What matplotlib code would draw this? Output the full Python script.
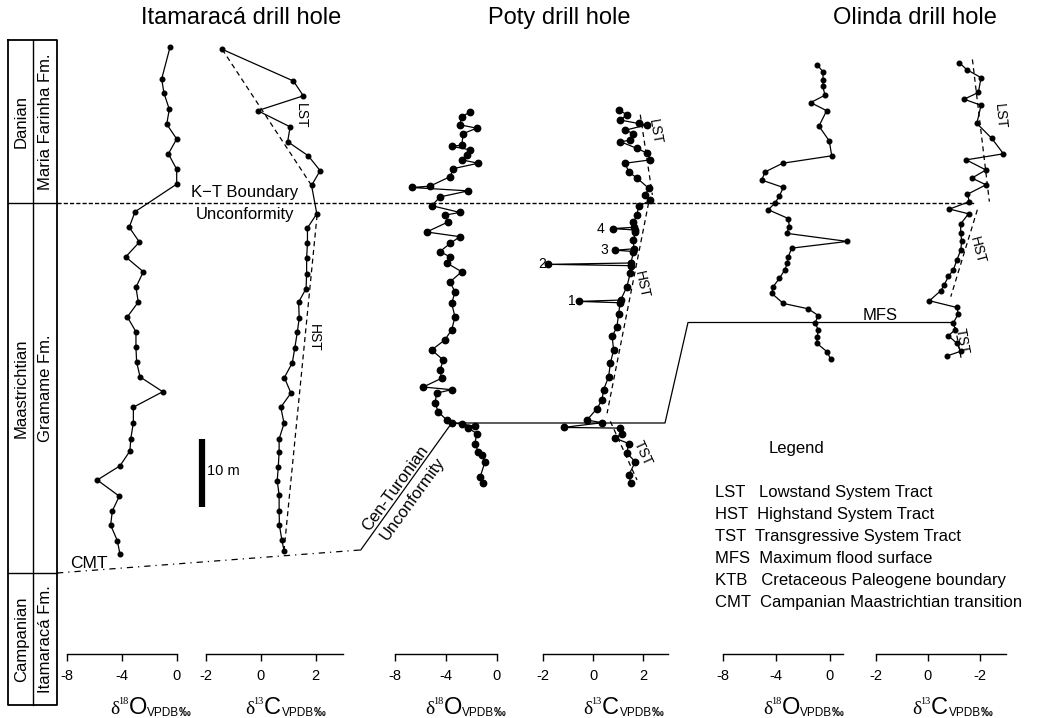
import matplotlib.pyplot as plt

plt.rcParams['font.family'] = ['Liberation Sans', 'DejaVu Sans']

W, H = 1039, 718
KT_ROW = 203       # pixel row of the K-T boundary
PX_PER_M = 6.74    # 10 m scale bar
AXIS_ROW = 654     # pixel row of the value axes

# ---- data: depth in m relative to K-T boundary (negative = above) ----
ita_o_depth = [-23.1, -18.4, -16.3, -13.9, -11.7, -9.5, -7.3, -5.0, -2.8, 1.3, 3.6, 5.8, 8.0,
               10.2, 12.5, 14.7, 16.9, 19.1, 21.4, 23.6, 25.8, 28.0, 30.3, 32.6, 35.0, 36.8,
               39.0, 41.1, 43.5, 45.7, 47.8, 50.1, 52.1]
ita_o = [-0.49, -1.10, -0.93, -0.54, -0.73, 0.0, -0.61, 0.0, 0.0, -3.05, -3.47, -2.73, -3.73,
         -2.44, -2.98, -2.81, -3.61, -2.98, -2.98, -2.93, -2.68, -1.02, -3.17, -3.17, -3.36,
         -3.42, -4.15, -5.81, -4.20, -4.71, -4.83, -4.34, -4.15]

ita_c_depth = [-22.8, -18.1, -15.9, -13.7, -11.3, -9.1, -7.0, -4.8, -2.6, 1.6, 3.7, 6.0, 8.2,
               10.5, 12.7, 14.7, 17.1, 19.2, 21.5, 23.7, 25.9, 28.2, 30.3, 32.7, 35.0, 36.9,
               39.1, 41.2, 43.3, 45.7, 47.8, 50.0, 51.6]
ita_c = [-1.40, 1.19, 1.55, -0.11, 1.07, 0.98, 1.73, 2.16, 1.85, 2.04, 1.70, 1.70, 1.67, 1.67,
         1.65, 1.38, 1.40, 1.33, 1.24, 1.15, 0.86, 1.10, 0.73, 0.85, 0.67, 0.67, 0.64, 0.60,
         0.67, 0.67, 0.68, 0.77, 0.85]
ita_c_lst = ([-1.40, 1.85], [-22.8, -2.6])
ita_c_hst = ([2.05, 0.85], [1.8, 51.5])

poty_o_depth = [-13.5, -12.8, -11.6, -11.1, -10.3, -8.6, -8.4, -7.9, -7.1, -6.4, -5.9, -5.1,
                -3.9, -2.5, -2.3, -1.8, -0.9, 0.4, 1.4, 1.8, 2.8, 4.3, 5.0, 6.0, 7.2, 8.0, 8.9,
                10.2, 11.7, 13.2, 14.9, 16.9, 18.8, 20.3, 21.8, 23.3, 24.8, 26.0, 27.3, 27.7,
                28.2, 29.7, 31.0, 32.2, 32.6, 32.8, 33.1, 33.4, 34.2, 35.7, 36.9, 37.4, 38.4,
                40.7, 41.6]
poty_o = [-2.10, -2.75, -2.89, -1.57, -2.63, -2.75, -3.54, -2.10, -2.36, -2.75, -1.45, -3.41,
          -3.67, -5.25, -6.69, -2.23, -4.46, -5.11, -2.89, -4.07, -3.81, -5.51, -2.89, -3.67,
          -4.46, -3.67, -3.93, -2.75, -3.67, -3.28, -3.54, -3.28, -3.54, -4.07, -5.11, -4.20,
          -4.46, -4.33, -5.78, -3.54, -4.72, -4.85, -4.59, -3.93, -3.54, -2.75, -1.71, -2.23,
          -1.57, -1.71, -1.45, -1.18, -0.92, -1.31, -1.05]

poty_c_depth = [-13.8, -13.1, -12.3, -11.8, -11.6, -10.8, -10.3, -9.3, -9.1, -8.1, -7.4, -6.4,
                -5.9, -4.6, -3.7, -2.2, -1.2, -0.4, 0.5, 1.8, 2.8, 3.6, 3.8, 4.0, 4.3, 5.5, 6.8,
                7.0, 7.2, 8.9, 9.1, 9.3, 10.4, 12.4, 14.4, 14.6, 14.8, 16.4, 18.4, 19.8, 21.8,
                23.8, 25.8, 27.7, 29.2, 30.5, 32.2, 32.6, 33.3, 33.4, 34.2, 34.9, 35.7, 37.1,
                38.4, 40.4, 41.5]
poty_c = [1.02, 1.35, 1.09, 1.81, 2.15, 1.28, 1.61, 1.48, 1.09, 1.75, 2.15, 2.28, 1.28, 1.42,
          1.75, 2.21, 2.08, 2.28, 1.81, 1.75, 1.61, 1.64, 0.78, 1.66, 1.68, 1.61, 1.62, 0.89,
          1.61, 1.51, -1.77, 1.50, 1.48, 1.35, 1.10, -0.57, 1.08, 1.02, 0.95, 0.76, 0.82,
          0.69, 0.62, 0.42, 0.36, 0.16, -0.24, 0.36, -1.17, 1.09, 1.15, 0.89, 1.42, 1.35,
          1.68, 1.42, 1.51]
poty_c_lst = ([1.88, 2.36], [-13.1, -1.2])
poty_c_hst = ([2.21, 0.56], [0.0, 31.2])
poty_c_tst = ([0.69, 1.75], [32.4, 41.1])
spike_labels = ['1', '2', '3', '4']
spike_depth = [14.5, 9.1, 7.0, 3.8]
spike_value = [-0.84, -2.03, 0.45, 0.31]

oli_o_depth = [-20.5, -19.5, -18.2, -17.3, -16.0, -14.9, -13.7, -11.4, -9.2, -7.0, -5.9, -4.6,
               -3.4, -2.3, -1.0, 0.0, 1.0, 2.3, 3.5, 4.5, 5.7, 6.7, 8.0, 8.9, 9.9, 11.2, 12.4,
               13.4, 14.9, 15.7, 16.7, 17.8, 18.8, 19.9, 20.8, 22.1, 23.2]
oli_o = [-0.95, -0.54, -0.50, -0.54, -0.37, -1.44, -0.25, -0.82, -0.05, 0.13, -3.53, -4.85,
         -5.09, -3.48, -3.78, -4.10, -4.60, -3.11, -3.03, -3.23, 1.29, -2.86, -3.11, -3.18,
         -3.36, -3.78, -4.23, -4.35, -3.48, -1.62, -0.87, -1.12, -0.87, -0.95, -0.99, -0.20,
         0.05]

oli_c_depth = [-20.8, -19.8, -18.6, -16.4, -15.4, -14.5, -11.8, -9.6, -7.3, -6.4, -4.9, -3.7,
               -2.7, -1.3, -0.2, 0.9, 1.6, 3.1, 4.4, 5.7, 7.0, 8.5, 9.9, 10.9, 12.2, 13.0, 14.5,
               15.5, 16.4, 17.8, 18.8, 19.7, 20.8, 22.0, 22.7]
oli_c = [1.21, 1.49, 2.04, 1.94, 1.39, 2.04, 1.88, 2.45, 2.90, 1.47, 2.23, 1.69, 2.23, 1.52,
         1.59, 0.83, 1.56, 1.26, 1.26, 1.30, 1.26, 1.11, 0.98, 0.79, 0.62, 0.50, 0.06, 1.11,
         1.17, 0.98, 1.05, 0.79, 1.11, 1.26, 0.73]
oli_c_lst = ([1.71, 2.36], [-21.3, -0.2])
oli_c_hst = ([1.90, 0.88], [1.0, 13.9])
oli_c_tst = ([1.05, 1.30], [18.4, 23.5])

o_ticks = [-8, -4, 0]
c_ticks = [-2, 0, 2]
c_ticklabels_olinda = ['-2', '0', '-2']


def depth_at(row):
    return (row - KT_ROW) / PX_PER_M


fig = plt.figure(figsize=(W / 100, H / 100), dpi=100)
ov = fig.add_axes([0, 0, 1, 1])
ov.set_xlim(0, W)
ov.set_ylim(depth_at(H), depth_at(0))
ov.axis('off')


def panel(px_a, val_a, ppu, lo, hi, ticks, ticklabels):
    v0, v1 = lo - 0.8, hi + 0.8
    left = px_a + (v0 - val_a) * ppu
    ax = fig.add_axes([left / W, (H - AXIS_ROW) / H, (v1 - v0) * ppu / W, AXIS_ROW / H])
    ax.set_xlim(v0, v1)
    ax.set_ylim(depth_at(AXIS_ROW), depth_at(0))
    ax.patch.set_alpha(0)
    for s in ['top', 'left', 'right']:
        ax.spines[s].set_visible(False)
    ax.spines['bottom'].set_bounds(lo, hi)
    ax.spines['bottom'].set_linewidth(1.0)
    ax.set_yticks([])
    ax.set_xticks(ticks, ticklabels)
    ax.tick_params(axis='x', direction='out', length=5, width=1.0, labelsize=10.5, pad=6)
    return ax


def curve(ax, vals, depth, ms=3.3):
    ax.plot(vals, depth, '-', color='black', lw=0.9, marker='o', ms=ms, clip_on=False)


def trend(ax, seg):
    ax.plot(seg[0], seg[1], color='black', lw=0.9, ls=(0, (4, 3)), clip_on=False)


def iso_label(left, iso, elem):
    base = depth_at(714)
    ov.text(left, base, '\u03b4', family='Liberation Serif', fontsize=14, va='baseline')
    ov.text(left + 8.5, depth_at(704.5), iso, family='Liberation Serif', fontsize=7.5,
            va='baseline')
    ov.text(left + 18.5, base, elem, fontsize=17, va='baseline')
    ov.text(left + 36.5, depth_at(715.5), 'VPDB', fontsize=8.5, va='baseline')
    ov.text(left + 68.5, depth_at(715.5), '\u2030', fontsize=8.5, fontweight='bold',
            va='baseline')


a1 = panel(67.3, -8, 13.675, -8, 0, o_ticks, o_ticks)
a2 = panel(205.7, -2, 27.5, -2, 3, c_ticks, c_ticks)
a3 = panel(395.0, -8, 12.71, -8, 0, o_ticks, o_ticks)
a4 = panel(542.7, -2, 25.15, -2, 3, c_ticks, c_ticks)
a5 = panel(722.7, -8, 13.41, -8, 1, o_ticks, o_ticks)
a6 = panel(875.7, -2, 26.07, -2, 3, c_ticks, c_ticklabels_olinda)

curve(a1, ita_o, ita_o_depth)
curve(a2, ita_c, ita_c_depth)
trend(a2, ita_c_lst)
trend(a2, ita_c_hst)
a2.text(1.45, -13.0, 'LST', rotation=-90, fontsize=10, ha='center', va='center')
a2.text(1.95, 20.0, 'HST', rotation=-90, fontsize=10, ha='center', va='center')

curve(a3, poty_o, poty_o_depth, ms=4.6)
curve(a4, poty_c, poty_c_depth, ms=4.6)
trend(a4, poty_c_lst)
trend(a4, poty_c_hst)
trend(a4, poty_c_tst)
a4.text(2.47, -10.5, 'LST', rotation=-80, fontsize=10, ha='center', va='center')
a4.text(1.95, 12.2, 'HST', rotation=-78, fontsize=10, ha='center', va='center')
a4.text(2.0, 37.1, 'TST', rotation=-65, fontsize=10, ha='center', va='center')
for lab, d, v in zip(spike_labels, spike_depth, spike_value):
    a4.text(v, d, lab, fontsize=10, ha='center', va='center')

curve(a5, oli_o, oli_o_depth)
curve(a6, oli_c, oli_c_depth)
trend(a6, oli_c_lst)
trend(a6, oli_c_hst)
trend(a6, oli_c_tst)
a6.text(2.78, -12.8, 'LST', rotation=-85, fontsize=10, ha='center', va='center')
a6.text(1.90, 7.0, 'HST', rotation=-75, fontsize=10, ha='center', va='center')
a6.text(1.30, 20.5, 'TST', rotation=-80, fontsize=10, ha='center', va='center')

# ---- overlay: boundaries, column, titles, legend ----
box_l, box_m, box_r = 8, 33, 57
top, cmt, bot = depth_at(40), depth_at(573), depth_at(705)
ov.plot([box_l, box_r, box_r, box_l, box_l], [top, top, bot, bot, top], color='black', lw=1.3)
ov.plot([box_m, box_m], [top, bot], color='black', lw=1.0)
ov.plot([box_l, box_r], [0, 0], color='black', lw=1.0)
ov.plot([box_l, box_r], [cmt, cmt], color='black', lw=1.0)
col_text = [('Danian', 'Maria Farinha Fm.', (top + 0) / 2),
            ('Maastrichtian', 'Gramame Fm.', (0 + cmt) / 2),
            ('Campanian', 'Itamaracá Fm.', (cmt + bot) / 2)]
for stage, fm, yc in col_text:
    ov.text((box_l + box_m) / 2 + 1, yc, stage, rotation=90, ha='center', va='center', fontsize=12)
    ov.text((box_m + box_r) / 2 + 1, yc, fm, rotation=90, ha='center', va='center', fontsize=12)

ov.plot([box_r, 975], [0, 0], color='black', lw=1.0, ls=(0, (3, 1.5)))
ov.text(245, depth_at(192), 'K\u2212T Boundary', ha='center', va='center', fontsize=12)
ov.text(245, depth_at(214), 'Unconformity', ha='center', va='center', fontsize=12)

ov.plot([box_r, 360], [cmt, depth_at(550)], color='black', lw=0.9, ls=(0, (5, 4, 1, 4)))
ov.text(89, depth_at(564), 'CMT', ha='center', va='center', fontsize=12.5)
ov.plot([360.7, 451.7, 665, 688, 953],
        [depth_at(550), depth_at(423), depth_at(423), depth_at(322.5), depth_at(322.5)],
        color='black', lw=0.9)
ov.text(395, depth_at(488), 'Cen-Turonian', rotation=54, ha='center', va='center', fontsize=12)
ov.text(412.5, depth_at(499), 'Unconformity', rotation=54, ha='center', va='center', fontsize=12)
ov.text(880, depth_at(316), 'MFS', ha='center', va='center', fontsize=12)

ov.plot([202, 202], [depth_at(439), depth_at(507)], color='black', lw=4.5, solid_capstyle='butt')
ov.text(207, depth_at(471), '10 m', ha='left', va='center', fontsize=10.5)

titles = [(241, 'Itamaracá drill hole'), (559, 'Poty drill hole'), (915, 'Olinda drill hole')]
for x, t in titles:
    ov.text(x, depth_at(18), t, ha='center', va='center', fontsize=17)

for left, iso, elem in [(110, '18', 'O'), (245, '13', 'C'), (425, '18', 'O'),
                        (583, '13', 'C'), (763, '18', 'O'), (912, '13', 'C')]:
    iso_label(left, iso, elem)

ov.text(796, depth_at(448), 'Legend', ha='center', va='center', fontsize=12)
legend_rows = ['LST   Lowstand System Tract', 'HST  Highstand System Tract',
               'TST  Transgressive System Tract', 'MFS  Maximum flood surface',
               'KTB   Cretaceous Paleogene boundary', 'CMT  Campanian Maastrichtian transition']
for i, row in enumerate(legend_rows):
    ov.text(715, depth_at(493 + i * 21.8), row, ha='left', va='center', fontsize=12)

fig.savefig('out.png', dpi=100)
